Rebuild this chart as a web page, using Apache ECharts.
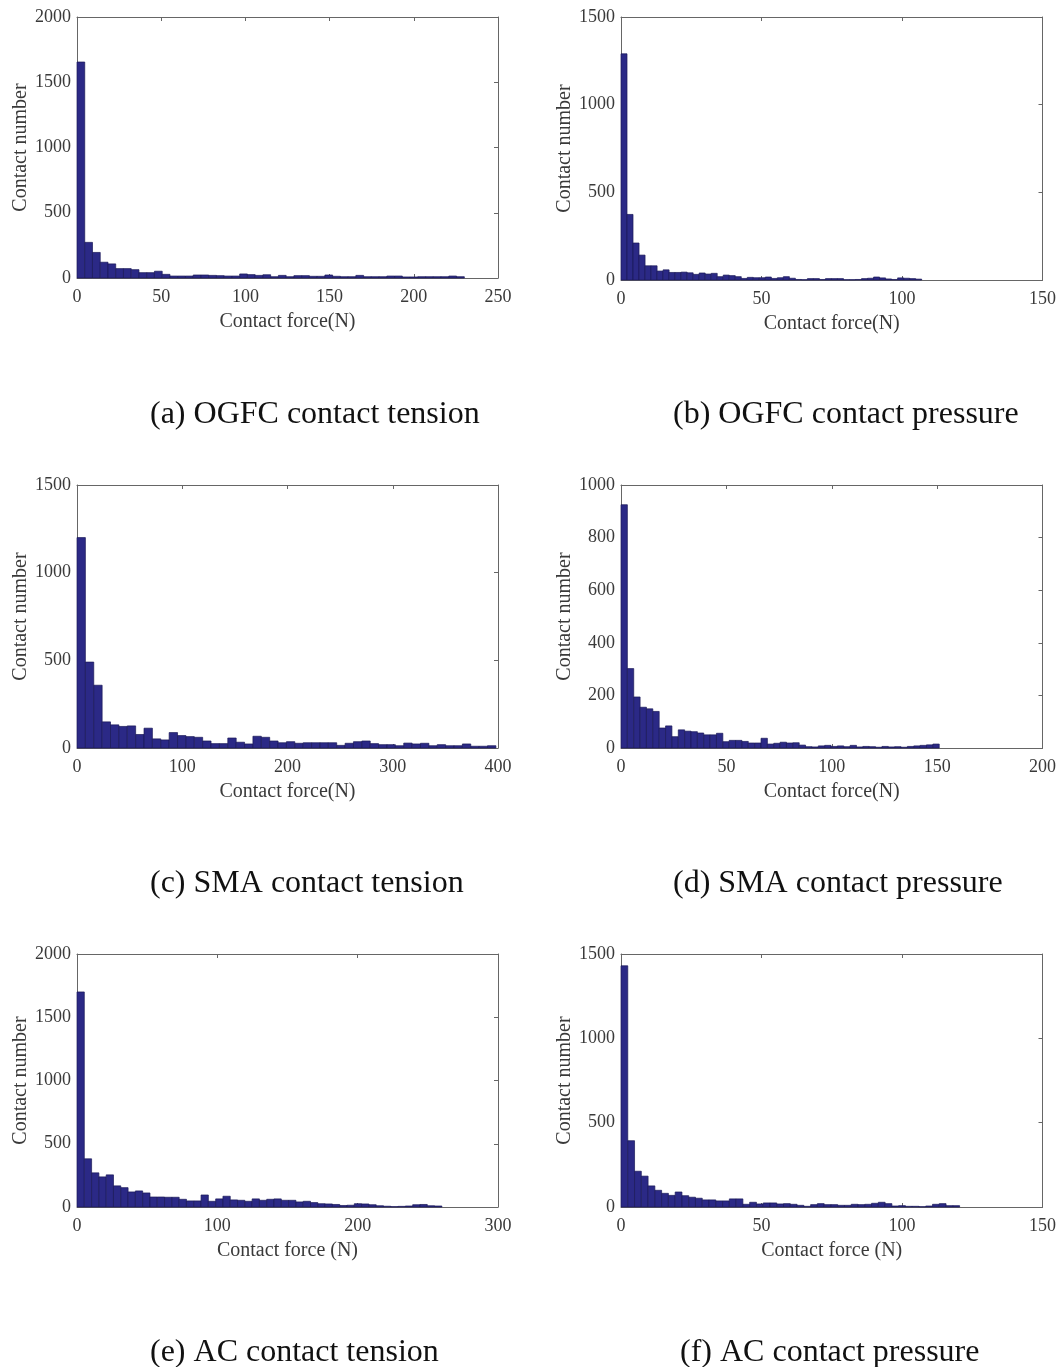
<!DOCTYPE html>
<html><head><meta charset="utf-8">
<script src="https://cdn.jsdelivr.net/npm/echarts@6/dist/echarts.min.js"></script>
<style>html,body{margin:0;padding:0;background:#fff}#c{width:1059px;height:1367px}</style>
</head><body><div id="c"></div>
<script>
// ---- data (histogram counts, 50 bins each) ----
const ogfcTensionBinWidth = 4.6;
const ogfcTensionCounts = [1655,273,196,121,108,72,72,64,41,41,52,28,15,15,15,23,23,20,18,15,15,31,26,20,25,10,20,10,18,18,13,13,23,13,10,10,20,10,10,10,15,15,8,8,10,10,10,10,15,10];
const ogfcPressureBinWidth = 2.14;
const ogfcPressureCounts = [1290,374,211,142,81,81,51,58,43,43,45,41,32,40,34,38,19,28,25,19,9,15,13,13,17,9,13,19,10,3,2,8,8,3,8,8,8,2,2,3,8,10,17,12,6,3,12,10,8,5];
const smaTensionBinWidth = 7.96;
const smaTensionCounts = [1200,490,358,149,132,123,126,77,113,52,46,88,71,65,61,40,25,25,57,33,23,67,61,40,30,36,27,30,30,30,30,15,27,36,40,25,19,19,13,28,23,27,13,19,13,13,23,10,10,13];
const smaPressureBinWidth = 3.02;
const smaPressureCounts = [925,302,194,155,149,139,76,84,43,69,64,62,57,50,50,56,24,29,29,25,19,19,37,15,18,22,19,20,11,5,4,8,10,6,8,5,10,4,6,5,3,6,4,5,3,6,8,10,12,15];
const acTensionBinWidth = 5.2;
const acTensionCounts = [1700,381,270,238,254,167,153,119,127,111,79,79,77,77,61,48,48,95,45,64,85,56,53,45,64,53,61,64,53,53,40,45,35,26,24,20,12,14,26,24,18,10,6,3,5,8,18,20,10,8];
const acPressureBinWidth = 2.41;
const acPressureCounts = [1430,393,212,183,125,99,81,69,89,67,58,52,42,42,36,36,48,48,16,28,18,24,24,18,20,16,10,4,14,20,14,14,10,10,16,14,16,22,28,20,6,8,4,4,2,6,16,20,8,8];

// axis ranges / ticks
const xMaxes = [250, 150, 400, 200, 300, 150];
const xIntervals = [50, 50, 100, 50, 100, 50];
const yMaxes = [2000, 1500, 1500, 1000, 2000, 1500];
const yIntervals = [500, 500, 500, 200, 500, 500];
const xNames = ['Contact force(N)','Contact force(N)','Contact force(N)','Contact force(N)','Contact force (N)','Contact force (N)'];
const yNames = ['Contact number','Contact number','Contact number','Contact number','Contact number','Contact number'];
const captions = ['(a) OGFC contact tension','(b) OGFC contact pressure','(c) SMA contact tension','(d) SMA contact pressure','(e) AC contact tension','(f) AC contact pressure'];

const panels = [
  {w: ogfcTensionBinWidth, c: ogfcTensionCounts},
  {w: ogfcPressureBinWidth, c: ogfcPressureCounts},
  {w: smaTensionBinWidth, c: smaTensionCounts},
  {w: smaPressureBinWidth, c: smaPressureCounts},
  {w: acTensionBinWidth, c: acTensionCounts},
  {w: acPressureBinWidth, c: acPressureCounts}
];

// layout
const grids = [
  {left: 77, top: 17, width: 421, height: 261},
  {left: 621, top: 17, width: 422, height: 263},
  {left: 77, top: 485, width: 421, height: 263},
  {left: 621, top: 485, width: 422, height: 263},
  {left: 77, top: 954, width: 421, height: 253},
  {left: 621, top: 954, width: 422, height: 253}
];
const captionPos = [[150, 412], [673, 412], [150, 881], [673, 881], [150, 1350], [680, 1350]];

const FONT = '"Liberation Serif", "DejaVu Serif", serif';
const AX = '#666';
const TXT = '#3a3a3a';
const plain = v => String(v);

const option = {
  animation: false,
  backgroundColor: '#fff',
  grid: grids.map(g => Object.assign({containLabel: false}, g)),
  xAxis: [], yAxis: [], series: [],
  graphic: captions.map((t, i) => ({
    type: 'text', left: captionPos[i][0], top: captionPos[i][1] - 13,
    style: {text: t, font: '32px ' + FONT, fill: '#111'}
  }))
};

panels.forEach((p, i) => {
  const base = {gridIndex: i, type: 'value', min: 0, max: xMaxes[i], interval: xIntervals[i], splitLine: {show: false}};
  option.xAxis.push(Object.assign({}, base, {
    position: 'bottom',
    name: xNames[i], nameLocation: 'middle', nameGap: 34,
    nameTextStyle: {fontFamily: FONT, fontSize: 20, color: TXT},
    axisLine: {show: true, onZero: false, lineStyle: {color: AX, width: 1}},
    axisTick: {show: true, inside: true, length: 4, lineStyle: {color: AX}},
    axisLabel: {fontFamily: FONT, fontSize: 18, color: TXT, margin: 10, formatter: plain}
  }));
  option.xAxis.push(Object.assign({}, base, {
    position: 'top',
    axisLine: {show: true, onZero: false, lineStyle: {color: AX, width: 1}},
    axisTick: {show: true, inside: true, length: 4, lineStyle: {color: AX}},
    axisLabel: {show: false}
  }));
  const ybase = {gridIndex: i, type: 'value', min: 0, max: yMaxes[i], interval: yIntervals[i], splitLine: {show: false}};
  option.yAxis.push(Object.assign({}, ybase, {
    position: 'left',
    name: yNames[i], nameLocation: 'middle', nameGap: 45,
    nameTextStyle: {fontFamily: FONT, fontSize: 20, color: TXT},
    axisLine: {show: true, onZero: false, lineStyle: {color: AX, width: 1}},
    axisTick: {show: true, inside: true, length: 4, lineStyle: {color: AX}},
    axisLabel: {fontFamily: FONT, fontSize: 18, color: TXT, margin: 6, formatter: plain}
  }));
  option.yAxis.push(Object.assign({}, ybase, {
    position: 'right',
    axisLine: {show: true, onZero: false, lineStyle: {color: AX, width: 1}},
    axisTick: {show: true, inside: true, length: 4, lineStyle: {color: AX}},
    axisLabel: {show: false}
  }));
  const data = p.c.map((v, k) => [k * p.w, (k + 1) * p.w, v]);
  option.series.push({
    type: 'custom',
    xAxisIndex: 2 * i, yAxisIndex: 2 * i,
    encode: {x: [0, 1], y: 2},
    data: data,
    renderItem: function (params, api) {
      const a = api.coord([api.value(0), 0]);
      const b = api.coord([api.value(1), api.value(2)]);
      return {
        type: 'rect',
        shape: {x: a[0], y: b[1], width: b[0] - a[0], height: a[1] - b[1]},
        style: {fill: '#2b2986', stroke: '#1a1958', lineWidth: 0.7}
      };
    }
  });
});

const chart = echarts.init(document.getElementById('c'), null, {renderer: 'canvas'});
chart.setOption(option);
</script>
</body></html>
